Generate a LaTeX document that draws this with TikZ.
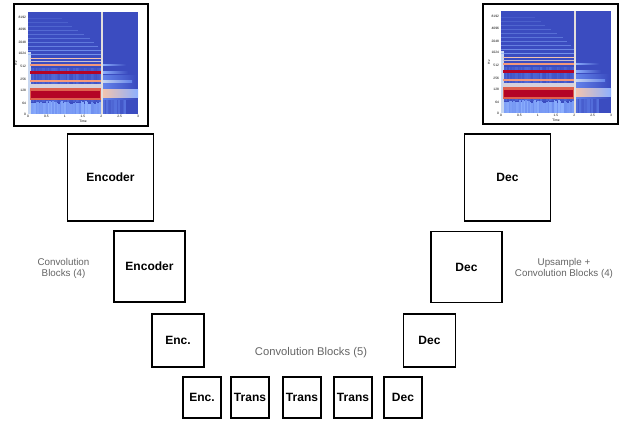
\documentclass[tikz,border=0pt]{standalone}
\usepackage{fontspec}
\setmainfont{Liberation Sans}
\definecolor{cwA}{RGB}{59,76,192}
\definecolor{cwB}{RGB}{98,130,234}
\definecolor{cwC}{RGB}{141,176,254}
\definecolor{cwD}{RGB}{200,215,240}
\definecolor{cwW}{RGB}{226,222,220}
\definecolor{cwRa}{RGB}{245,196,172}
\definecolor{cwRb}{RGB}{244,152,122}
\definecolor{cwRc}{RGB}{222,96,77}
\definecolor{cwRd}{RGB}{180,4,38}
\definecolor{lbl}{RGB}{100,100,100}
\newcommand\myspectro[2]{%
\begin{scope}[shift={(#1,#2)}]
 \fill[cwA] (0,0) rectangle (110,102);
 % mid region noise
 \pgfmathsetseed{11}
 \foreach \i in {0,1.5,...,73} {
   \pgfmathsetmacro\m{int(10+50*rnd)}
   \fill[cwB!\m!cwA] (\i,56) rectangle ++(1.5,34);
 }
 % low region noise
 \foreach \i in {0,1.5,...,73} {
   \pgfmathsetmacro\m{int(30+70*rnd)}
   \pgfmathsetmacro\h{3*rnd}
   \fill[cwC!\m!cwB] (\i,89+\h) rectangle ++(1.5,13-\h);
 }
 \foreach \i in {75,76.5,...,96} {
   \pgfmathsetmacro\m{int(20+60*rnd)}
   \fill[cwB!\m!cwA] (\i,86) rectangle ++(1.5,16);
 }
 % after t=2 faded area
 \shade[left color=cwB,right color=cwA] (75,64) rectangle (108,88);
 % onset
 \fill[cwD] (0,40) rectangle (2.5,102);
 % light band between 256 and 128
 \fill[cwD!70!cwRa] (2,72) rectangle (74,76);
 % red band at 128
 \fill[cwRc] (2,76) rectangle (74,88);
 \fill[cwRd] (3,79) rectangle (72,86);
 \shade[left color=cwRa,right color=cwC] (74,78) rectangle (110,86);
 % 256 band
 \fill[cwRb] (2,68) rectangle (74,70.5);
 \shade[left color=cwD,right color=cwB] (74,68.5) rectangle (104,70.5);
 % strong line
 \fill[cwRd] (2,59.5) rectangle (74,62);
 \shade[left color=cwC,right color=cwA] (74,60) rectangle (100,61.5);
 \fill[cwRb] (2,52.5) rectangle (74,54.5);
 \shade[left color=cwC,right color=cwA] (74,53) rectangle (98,54);
 \fill[cwRa] (2,46) rectangle (74,47.5);
 \fill[cwRa!60!cwC] (2,49.5) rectangle (74,50.5);
 % upper harmonics
 \foreach \r/\o/\l in {42/70/74,38/60/74,34/50/70,30/45/66,26/40/62,22/35/56,18/30/50,14/25/44,10/20/40,6/15/34} {
   \fill[cwC,opacity=\o/100] (0,\r) rectangle (\l,\r+1);
 }
 % vertical line at t=2
 \fill[cwW] (73,0) rectangle (75,102);
 % tick labels
 \foreach \v/\t in {102/0,91/64,78/128,67/256,54/512,41/1024,30/2048,17/4096,5/8192}
   \node[tick, anchor=east] at (-1.5,\v) {\t};
 \foreach \u/\t in {0/0,18.3/0.5,36.7/1,55/1.5,73.3/2,91.7/2.5,110/3}
   \node[tick, anchor=north] at (\u,102.5) {\t};
 \node[tick] at (55,109) {Time};
 \node[tick, rotate=90] at (-12,51) {Hz};
\end{scope}}
\begin{document}
\begin{tikzpicture}[x=1pt,y=-1pt,
  box/.style={draw,line width=1.8pt,inner sep=0pt,font=\bfseries\fontsize{12}{14}\selectfont},
  bigbox/.style={box,minimum width=86pt,minimum height=87pt},
  midbox/.style={box,minimum width=71pt,minimum height=71pt},
  smbox/.style={box,minimum width=52pt,minimum height=53pt},
  tinybox/.style={box,minimum width=38pt,minimum height=41pt},
  frame/.style={draw,line width=2.6pt,inner sep=0pt},
  tick/.style={inner sep=0.3pt,font=\fontsize{3.3}{3.6}\selectfont},
  note/.style={text=lbl,align=center,font=\fontsize{9.8}{11}\selectfont}]
\useasboundingbox (0,0) rectangle (633,425);
\myspectro{28}{12}
\myspectro{501}{11}
\node[frame,minimum width=134pt,minimum height=122pt] (specL) at (81,65) {};
\node[frame,minimum width=135pt,minimum height=120pt] (specR) at (550.5,64) {};
\node[bigbox] (enc1) at (110.5,177.5) {Encoder};
\node[midbox] (enc2) at (149.5,266.5) {Encoder};
\node[smbox] (enc3) at (178,340.5) {Enc.};
\node[tinybox] (enc4) at (202,397.5) {Enc.};
\node[tinybox] (tr1) at (250,397.5) {Trans};
\node[tinybox] (tr2) at (302,397.5) {Trans};
\node[tinybox] (tr3) at (353,397.5) {Trans};
\node[tinybox] (dec4) at (403,397.5) {Dec};
\node[smbox] (dec3) at (429.5,340.5) {Dec};
\node[midbox] (dec2) at (466.5,267) {Dec};
\node[bigbox] (dec1) at (507.5,177.5) {Dec};
\node[note] (nl) at (63.5,268.5) {Convolution\\Blocks (4)};
\node[note] (nr) at (564,268) {Upsample +\\Convolution Blocks (4)};
\node[note,font=\fontsize{11.2}{13}\selectfont] (nb) at (311,353) {Convolution Blocks (5)};
\end{tikzpicture}
\end{document}
